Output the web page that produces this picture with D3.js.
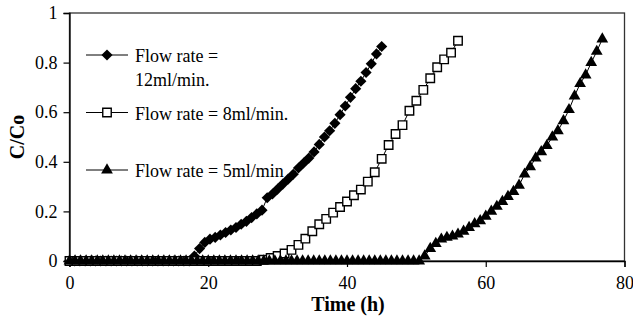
<!DOCTYPE html>
<html><head><meta charset="utf-8">
<script src="https://cdn.jsdelivr.net/npm/d3@7"></script>
<style>body{margin:0;background:#fff}svg{display:block}</style>
</head><body>
<svg id="c" width="633" height="322"></svg>
<script>
// ---- data ----
const xTicks = [0, 20, 40, 60, 80];
const yTicks = [0, 0.2, 0.4, 0.6, 0.8, 1];
const xTitle = "Time (h)";
const yTitle = "C/Co";
const seriesNames = ["Flow rate = 12ml/min.", "Flow rate = 8ml/min.", "Flow rate = 5ml/min"];

const t12 = [0,0.75,1.5,2.25,3,3.75,4.5,5.25,6,6.75,7.5,8.25,9,9.75,10.5,11.25,12,12.75,13.5,14.25,15,15.75,16.5,17.25,
  18,18.75,19.5,20.25,21,21.75,22.5,23.25,24,24.75,25.5,26.25,27,27.75,28.5,29.25,30,30.75,31.5,32.25,33,33.75,34.5,35.25,36,36.75,37.5,38.25,39,39.75,40.5,41.25,42,42.75,43.5,44.25,45];
const c12 = [0,0,0,0,0,0,0,0,0,0,0,0,0,0,0,0,0,0,0,0,0,0,0,0,
  0.02,0.05,0.075,0.088,0.095,0.105,0.115,0.125,0.135,0.148,0.16,0.175,0.19,0.205,0.255,0.27,0.29,0.31,0.33,0.35,0.375,0.395,0.415,0.44,0.47,0.5,0.525,0.555,0.59,0.625,0.66,0.695,0.725,0.76,0.795,0.835,0.865];

const t8 = [0,1,2,3,4,5,6,7,8,9,10,11,12,13,14,15,16,17,18,19,20,21,22,23,24,25,26,27,
  28,29,30,31,32,33,34,35,36,37,38,39,40,41,42,43,44,45,46,47,48,49,50,51,52,53,54,55,56];
const c8 = [0,0,0,0,0,0,0,0,0,0,0,0,0,0,0,0,0,0,0,0,0,0,0,0,0,0,0,0,
  0.005,0.012,0.02,0.03,0.045,0.065,0.09,0.12,0.148,0.17,0.195,0.218,0.24,0.265,0.288,0.32,0.358,0.412,0.468,0.512,0.548,0.606,0.646,0.69,0.737,0.781,0.813,0.84,0.888];

const t5 = [0,0.8,1.6,2.4,3.2,4,4.8,5.6,6.4,7.2,8,8.8,9.6,10.4,11.2,12,12.8,13.6,14.4,15.2,16,16.8,17.6,18.4,19.2,20,20.8,21.6,22.4,23.2,24,24.8,25.6,26.4,27.2,28,28.8,29.6,30.4,31.2,32,32.8,33.6,34.4,35.2,36,36.8,37.6,38.4,39.2,40,40.8,41.6,42.4,43.2,44,44.8,45.6,46.4,47.2,48,48.8,49.6,50.4,
  51.2,52,52.8,53.6,54.4,55.2,56,56.8,57.6,58.4,59.2,60,60.8,61.6,62.4,63.2,64,64.8,65.6,66.4,67.2,68,68.8,69.6,70.4,71.2,72,72.8,73.6,74.4,75.2,76,76.8];
const c5 = [0,0,0,0,0,0,0,0,0,0,0,0,0,0,0,0,0,0,0,0,0,0,0,0,0,0,0,0,0,0,0,0,0,0,0,0,0,0,0,0,0,0,0,0,0,0,0,0,0,0,0,0,0,0,0,0,0,0,0,0,0,0,0,0,
  0.02,0.05,0.07,0.088,0.095,0.1,0.108,0.12,0.135,0.15,0.162,0.18,0.2,0.22,0.24,0.26,0.28,0.305,0.35,0.38,0.415,0.44,0.465,0.5,0.525,0.565,0.61,0.665,0.715,0.75,0.8,0.845,0.895];

// ---- chart ----
const FONT = "'Liberation Serif','Times New Roman',serif";
const svg = d3.select("#c");
const x = d3.scaleLinear().domain([0, 80]).range([69.5, 624.5]);
const y = d3.scaleLinear().domain([0, 1]).range([261, 13]);

const zip = (ts, vs) => ts.slice(0, Math.min(ts.length, vs.length)).map((t, i) => ({t, v: vs[i]}));
const series = [
  {name: seriesNames[0], data: zip(t12, c12), type: "diamond"},
  {name: seriesNames[1], data: zip(t8, c8), type: "square"},
  {name: seriesNames[2], data: zip(t5, c5), type: "triangle"}
];

// frame
svg.append("rect").attr("x", x(0)).attr("y", y(1)).attr("width", x(80) - x(0)).attr("height", y(0) - y(1))
  .attr("fill", "none").attr("stroke", "#333").attr("stroke-width", 1.3);

// axes
const yAxis = svg.append("g").attr("transform", `translate(${x(0)},0)`)
  .call(d3.axisLeft(y).tickValues(yTicks).tickFormat(d3.format("~g")).tickSize(6).tickPadding(6));
const xAxis = svg.append("g").attr("transform", `translate(0,${y(0)})`)
  .call(d3.axisBottom(x).tickValues(xTicks).tickFormat(d3.format("~g")).tickSize(6).tickPadding(9));
[yAxis, xAxis].forEach(a => {
  a.select(".domain").attr("stroke", "#000").attr("stroke-width", 1.3);
  a.selectAll(".tick line").attr("stroke", "#000").attr("stroke-width", 1.2);
  a.selectAll("text").attr("font-family", FONT).attr("font-size", 18).attr("fill", "#000");
});

// symbols
function sym(sel, type) {
  if (type === "diamond") {
    sel.append("path").attr("d", d3.symbol(d3.symbolSquare, 62)())
      .attr("transform", "rotate(45)").attr("fill", "#000").attr("stroke", "none");
  } else if (type === "square") {
    sel.append("path").attr("d", d3.symbol(d3.symbolSquare, 72)())
      .attr("fill", "#fff").attr("stroke", "#000").attr("stroke-width", 1.4);
  } else {
    sel.append("path").attr("d", d3.symbol(d3.symbolTriangle, 60)())
      .attr("fill", "#000").attr("stroke", "none");
  }
}

const line = d3.line().x(d => x(d.t)).y(d => y(d.v));
series.forEach(s => {
  const g = svg.append("g");
  g.append("path").datum(s.data).attr("d", line).attr("fill", "none").attr("stroke", "#000").attr("stroke-width", 1);
  g.selectAll("g.pt").data(s.data).join("g").attr("class", "pt")
    .attr("transform", d => `translate(${x(d.t)},${y(d.v)})`)
    .each(function() { sym(d3.select(this), s.type); });
});

// legend
const legendY = [55, 112.5, 170];
const leg = svg.append("g");
series.forEach((s, i) => {
  const g = leg.append("g").attr("transform", `translate(0,${legendY[i]})`);
  g.append("line").attr("x1", 86).attr("x2", 128).attr("y1", 0).attr("y2", 0).attr("stroke", "#000").attr("stroke-width", 1);
  const m = g.append("g").attr("transform", "translate(107,0)");
  sym(m, s.type);
  const txt = g.append("text").attr("x", 135).attr("y", 7).attr("font-family", FONT).attr("font-size", 18).attr("fill", "#000");
  if (i === 0) {
    txt.append("tspan").attr("x", 135).text("Flow rate =");
    txt.append("tspan").attr("x", 135).attr("dy", 24).text("12ml/min.");
  } else {
    txt.text(s.name);
  }
});

// titles
svg.append("text").attr("x", 348).attr("y", 311).attr("text-anchor", "middle")
  .attr("font-family", FONT).attr("font-size", 20).attr("font-weight", "bold").text(xTitle);
svg.append("text").attr("transform", "translate(24,137) rotate(-90)").attr("text-anchor", "middle")
  .attr("font-family", FONT).attr("font-size", 20).attr("font-weight", "bold").text(yTitle);
</script>
</body></html>
